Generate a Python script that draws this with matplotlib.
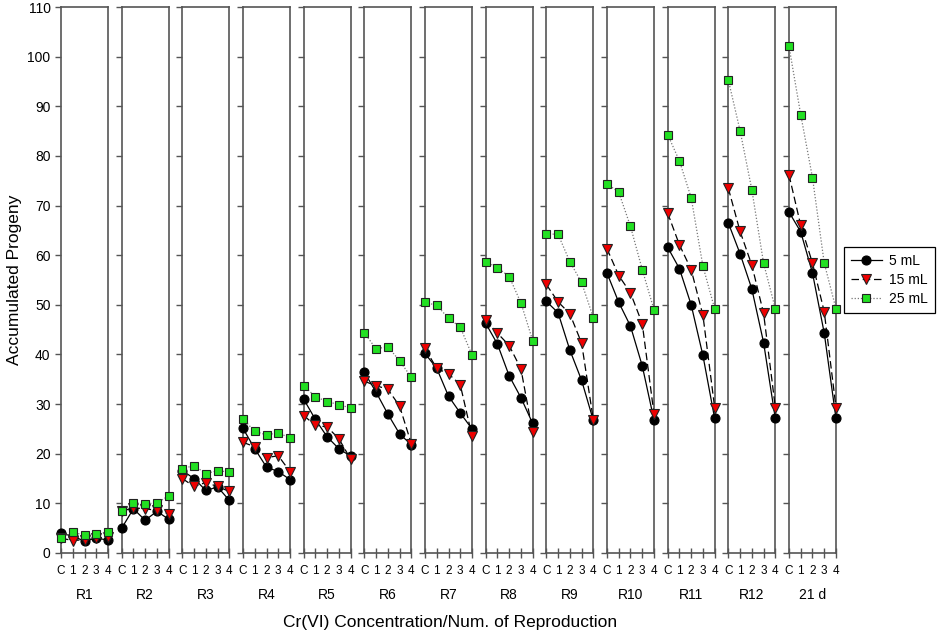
import matplotlib
matplotlib.use("Agg")
import matplotlib.pyplot as plt

plt.rcParams['font.family'] = ['Liberation Sans', 'DejaVu Sans']

reps = ['R1', 'R2', 'R3', 'R4', 'R5', 'R6', 'R7', 'R8', 'R9', 'R10', 'R11', 'R12', '21 d']
conc = ['C', '1', '2', '3', '4']

# accumulated progeny per reproduction, one row per panel (C,1,2,3,4)
ml5 = [
    [4.0, 3.4, 2.4, 3.0, 2.6],
    [5.0, 8.9, 6.6, 8.4, 6.8],
    [16.6, 15.0, 12.6, 13.3, 10.6],
    [25.1, 21.0, 17.3, 16.4, 14.8],
    [31.0, 26.9, 23.4, 21.0, 19.5],
    [36.4, 32.4, 28.0, 24.0, 21.8],
    [40.2, 37.2, 31.6, 28.2, 25.0],
    [46.3, 42.1, 35.7, 31.3, 26.1],
    [50.7, 48.4, 40.9, 34.8, 26.7],
    [56.4, 50.5, 45.7, 37.7, 26.8],
    [61.6, 57.3, 50.0, 39.8, 27.1],
    [66.5, 60.3, 53.2, 42.4, 27.1],
    [68.7, 64.7, 56.4, 44.3, 27.1],
]
ml15 = [
    [3.0, 2.5, 2.7, 3.0, 3.2],
    [8.4, 9.1, 8.9, 8.6, 7.9],
    [15.0, 13.4, 14.2, 13.4, 12.4],
    [22.3, 21.4, 19.2, 19.6, 16.4],
    [27.7, 25.7, 25.4, 23.0, 18.9],
    [34.6, 33.7, 33.0, 29.6, 22.0],
    [41.2, 37.2, 36.1, 33.9, 23.6],
    [47.0, 44.3, 41.8, 37.1, 24.3],
    [54.1, 50.6, 48.2, 42.3, 26.8],
    [61.3, 55.9, 52.4, 46.2, 28.0],
    [68.5, 62.1, 57.1, 47.9, 29.3],
    [73.5, 64.8, 58.0, 48.3, 29.3],
    [76.2, 66.0, 58.4, 48.6, 29.3],
]
ml25 = [
    [3.0, 4.2, 3.6, 3.9, 4.2],
    [8.4, 10.1, 9.9, 10.1, 11.5],
    [17.0, 17.6, 16.0, 16.6, 16.3],
    [27.0, 24.5, 23.8, 24.2, 23.2],
    [33.7, 31.5, 30.5, 29.9, 29.2],
    [44.4, 41.1, 41.6, 38.7, 35.4],
    [50.5, 49.9, 47.3, 45.5, 39.9],
    [58.7, 57.5, 55.7, 50.4, 42.8],
    [64.3, 64.2, 58.7, 54.5, 47.4],
    [74.4, 72.7, 65.8, 57.1, 49.0],
    [84.3, 79.0, 71.6, 57.8, 49.2],
    [95.3, 85.1, 73.2, 58.4, 49.2],
    [102.1, 88.3, 75.6, 58.4, 49.2],
]

series = [
    ('5 mL', ml5, dict(color='black', ls='-', marker='o', mfc='black', mec='black', ms=6.5)),
    ('15 mL', ml15, dict(color='black', ls=(0, (6, 3)), marker='v', mfc='#ee0000', mec='#222222', ms=6.5)),
    ('25 mL', ml25, dict(color='#777777', ls=(0, (1, 1.5)), marker='s', mfc='#22e022', mec='#222222', ms=5.5)),
]

fig, axes = plt.subplots(1, len(reps), sharey=True, figsize=(9.41, 6.33), dpi=100)
fig.subplots_adjust(left=61/941, right=836/941, top=1 - 7/633, bottom=1 - 553/633, wspace=0.29)

spine_col = '#555555'
x = list(range(len(conc)))
handles = []
for i, ax in enumerate(axes):
    for name, vals, st in series:
        ln, = ax.plot(x, vals[i], lw=0.9, mew=0.8, clip_on=False, zorder=5, label=name, **st)
        if i == 0:
            handles.append(ln)
    ax.set_xlim(0, 4)
    ax.set_ylim(0, 110)
    ax.set_xticks(x)
    ax.set_xticklabels(conc, fontsize=8.5)
    ax.set_yticks(range(0, 111, 10))
    ax.tick_params(axis='x', direction='inout', length=7, width=1, color=spine_col, pad=5)
    ax.tick_params(axis='y', direction='out', length=4, width=1, color=spine_col, labelsize=10)
    for sp in ax.spines.values():
        sp.set_color(spine_col)
        sp.set_linewidth(1.2)
    ax.set_xlabel(reps[i], fontsize=10, labelpad=8)
    if i > 0:
        ax.tick_params(axis='y', labelleft=False)

axes[0].set_ylabel('Accumulated Progeny', fontsize=12.5, labelpad=4)
fig.text(450/941, 1 - 622/633, 'Cr(VI) Concentration/Num. of Reproduction',
         fontsize=12.5, ha='center', va='center')

leg = fig.legend(handles=handles, loc='center left', bbox_to_anchor=(844/941, 1 - 280/633),
                 borderaxespad=0, fontsize=10, frameon=True, fancybox=False, edgecolor='black',
                 framealpha=1, handlelength=2.2, handletextpad=0.55, borderpad=0.5,
                 labelspacing=0.35)
leg.get_frame().set_linewidth(0.9)

fig.savefig('out.png', dpi=100)
